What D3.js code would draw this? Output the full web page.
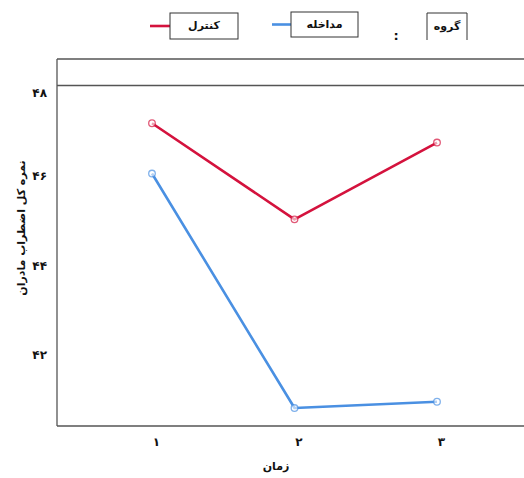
<!DOCTYPE html>
<html><head><meta charset="utf-8">
<script src="https://cdn.jsdelivr.net/npm/d3@7"></script>
<style>body{margin:0;background:#fff}svg{display:block}text{font-family:"DejaVu Sans",sans-serif;font-weight:bold;fill:#111}</style>
</head><body><div id="c"></div>
<script>
const categories = ["1","2","3"];
const categoryLabels = ["۱","۲","۳"];
const controlValues = [47.16, 45.02, 46.73];
const interventionValues = [46.04, 40.82, 40.96];
const seriesNames = ["کنترل","مداخله"];
const yTicks = [42,44,46,48];
const yTickLabels = ["۴۲","۴۴","۴۶","۴۸"];
const yTitle = "نمره کل اضطراب مادران";
const xTitle = "زمان";
const legendTitle = "گروه";

const W = 524, H = 478;
const svg = d3.select("#c").append("svg").attr("width", W).attr("height", H);

const frameLeft = 57, frameTop = 59, plotTop = 85.5, plotBottom = 426, frameRight = 530;
const x = d3.scalePoint().domain(categories).range([152, 437]);
const y = d3.scaleLinear().domain([40.42, 48]).range([plotBottom, plotTop]);

// frame
const fc = "#555";
svg.append("line").attr("x1", frameLeft).attr("x2", frameRight).attr("y1", frameTop).attr("y2", frameTop).attr("stroke", fc).attr("stroke-width", 1.3);
svg.append("line").attr("x1", frameLeft).attr("x2", frameRight).attr("y1", plotTop).attr("y2", plotTop).attr("stroke", fc).attr("stroke-width", 1.3);
svg.append("line").attr("x1", frameLeft).attr("x2", frameLeft).attr("y1", frameTop).attr("y2", plotBottom).attr("stroke", fc).attr("stroke-width", 1.3);

// axes
const xAxis = d3.axisBottom(x).tickSize(0).tickPadding(11).tickFormat((d,i) => categoryLabels[i]);
const gx = svg.append("g").attr("transform", `translate(0,${plotBottom})`).call(xAxis);
gx.select(".domain").attr("d", `M${frameLeft},0H${frameRight}`).attr("stroke", fc).attr("stroke-width", 1.3);
gx.selectAll("text").attr("font-size", 12).attr("dx", 4).style("font-family", '"DejaVu Sans",sans-serif');

const yAxis = d3.axisLeft(y).tickValues(yTicks).tickSize(0).tickPadding(10).tickFormat((d,i) => yTickLabels[i]);
const gy = svg.append("g").attr("transform", `translate(${frameLeft},0)`).call(yAxis);
gy.select(".domain").remove();
gy.selectAll("text").attr("font-size", 12).style("font-family", '"DejaVu Sans",sans-serif')
  .attr("dy", d => d === 48 ? "0.95em" : "0.32em");

// titles
svg.append("text").attr("transform", "translate(22,228) rotate(-90)").attr("text-anchor", "middle")
  .attr("font-size", 11).attr("dominant-baseline", "middle").text(yTitle);
svg.append("text").attr("x", 276).attr("y", 470).attr("text-anchor", "middle").attr("font-size", 11).text(xTitle);

// lines
const series = [
  {name: seriesNames[0], values: controlValues, color: "#d4123d"},
  {name: seriesNames[1], values: interventionValues, color: "#4a90e2"}
];
const line = d3.line().x((d,i) => x(categories[i])).y(d => y(d));
series.forEach(s => {
  svg.append("path").datum(s.values).attr("d", line).attr("fill", "none")
    .attr("stroke", s.color).attr("stroke-width", 2.6).attr("stroke-linejoin", "round");
  svg.selectAll(null).data(s.values).enter().append("circle")
    .attr("cx", (d,i) => x(categories[i])).attr("cy", d => y(d)).attr("r", 3.3)
    .attr("fill", "#fff").attr("fill-opacity", 0.6).attr("stroke", s.color).attr("stroke-opacity", 0.7).attr("stroke-width", 1.3);
});

// legend
const legendItems = [
  {name: seriesNames[0], color: series[0].color, lx: 150, bx: 170, bw: 68, by: 13, bh: 26},
  {name: seriesNames[1], color: series[1].color, lx: 272, bx: 291, bw: 67, by: 12, bh: 25}
];
legendItems.forEach(it => {
  svg.append("line").attr("x1", it.lx).attr("x2", it.bx).attr("y1", it.by + it.bh/2).attr("y2", it.by + it.bh/2)
    .attr("stroke", it.color).attr("stroke-width", 2.6);
  svg.append("rect").attr("x", it.bx).attr("y", it.by).attr("width", it.bw).attr("height", it.bh)
    .attr("fill", "#fff").attr("stroke", "#333").attr("stroke-width", 1);
  svg.append("text").attr("x", it.bx + it.bw/2).attr("y", it.by + it.bh/2).attr("dominant-baseline", "middle")
    .attr("text-anchor", "middle").attr("font-size", 11).text(it.name);
});
svg.append("text").attr("x", 396).attr("y", 40).attr("text-anchor", "middle").attr("font-size", 13).text(":");
svg.append("path").attr("d", "M427,40V13H467V40").attr("fill", "none").attr("stroke", "#333").attr("stroke-width", 1);
svg.append("text").attr("x", 447).attr("y", 27).attr("dominant-baseline", "middle").attr("text-anchor", "middle").attr("font-size", 11).text(legendTitle);
</script></body></html>
